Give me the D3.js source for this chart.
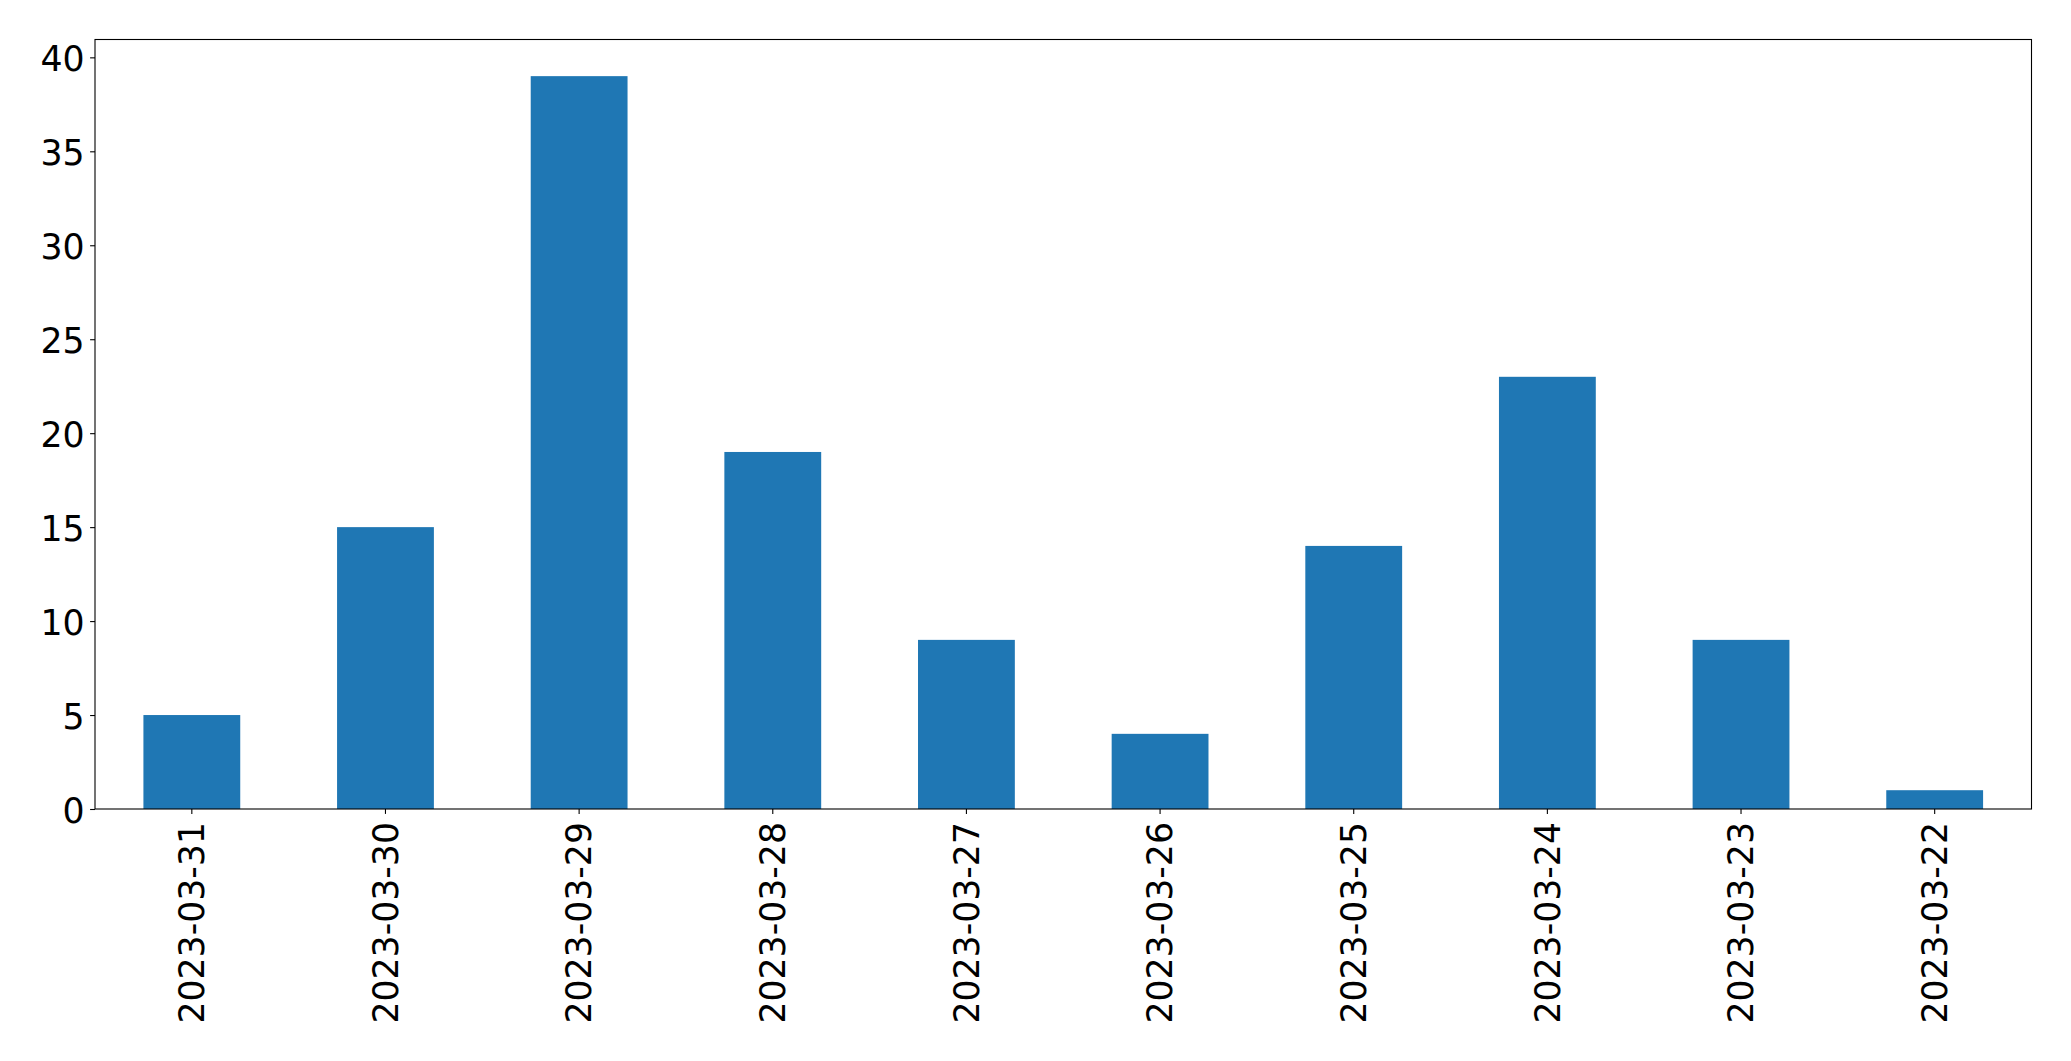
<!DOCTYPE html>
<html>
<head>
<meta charset="utf-8">
<script src="https://cdn.jsdelivr.net/npm/d3@7"></script>
<style>
  body { margin: 0; background: #fff; }
  text { font-family: "DejaVu Sans", sans-serif; fill: #000; }
</style>
</head>
<body>
<svg width="2071" height="1061"></svg>
<script>
// data
var dates = ["2023-03-31", "2023-03-30", "2023-03-29", "2023-03-28", "2023-03-27",
             "2023-03-26", "2023-03-25", "2023-03-24", "2023-03-23", "2023-03-22"];
var counts = [5, 15, 39, 19, 9, 4, 14, 23, 9, 1];
var yTicks = [0, 5, 10, 15, 20, 25, 30, 35, 40];

// plot area (note: "top" is reserved on window, so use other names)
var plotLeft = 95, plotRight = 2031.5, plotTop = 39.5, plotBottom = 809;
var fontSize = 34.7;
var tickLen = 4.9;

var svg = d3.select("svg");

// band scale like pandas: bars are half the slot
var x = d3.scaleBand().domain(dates).range([plotLeft, plotRight]).paddingInner(0.5).paddingOuter(0.25);
var y = d3.scaleLinear().domain([0, d3.max(counts) * 1.05]).range([plotBottom, plotTop]);

svg.append("g")
    .selectAll("rect")
    .data(counts)
    .enter()
    .append("rect")
    .attr("x", (d, i) => x(dates[i]))
    .attr("y", d => y(d))
    .attr("width", x.bandwidth())
    .attr("height", d => plotBottom - y(d))
    .attr("fill", "#1f77b4");

// y axis
var axisY = d3.axisLeft(y).tickValues(yTicks).tickSize(tickLen).tickPadding(5.5);
var gy = svg.append("g").attr("transform", "translate(" + plotLeft + ",0)").call(axisY);
gy.select(".domain").remove();
gy.selectAll("line").attr("stroke", "#000").attr("stroke-width", 1.1);
gy.selectAll("text")
    .attr("font-size", fontSize)
    .attr("dy", "0.38em")
    .style("font-family", "DejaVu Sans");

// x axis, labels rotated
var axisX = d3.axisBottom(x).tickSize(tickLen).tickPadding(0);
var gx = svg.append("g").attr("transform", "translate(0," + plotBottom + ")").call(axisX);
gx.select(".domain").remove();
gx.selectAll("line").attr("stroke", "#000").attr("stroke-width", 1.1);
gx.selectAll("text")
    .attr("font-size", fontSize)
    .style("font-family", "DejaVu Sans")
    .attr("text-anchor", "end")
    .attr("dy", "0.35em")
    .attr("y", 0)
    .attr("x", 0)
    .attr("transform", "translate(0,13) rotate(-90)");

// frame
svg.append("rect")
    .attr("x", plotLeft)
    .attr("y", plotTop)
    .attr("width", plotRight - plotLeft)
    .attr("height", plotBottom - plotTop)
    .attr("fill", "none")
    .attr("stroke", "#000")
    .attr("stroke-width", 1.1);
</script>
</body>
</html>
